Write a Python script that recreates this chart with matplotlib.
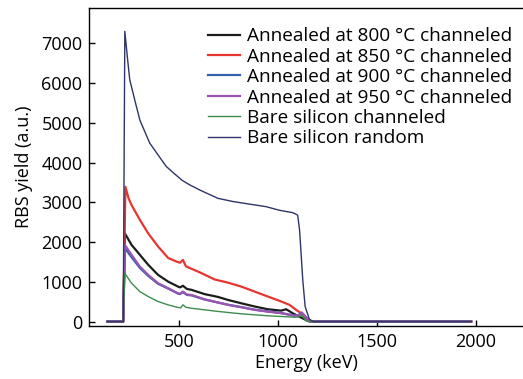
import matplotlib
matplotlib.use("Agg")
import matplotlib.pyplot as plt

# values (energy in keV, yield in a.u.)
labels = [
    "Annealed at 800 °C channeled",
    "Annealed at 850 °C channeled",
    "Annealed at 900 °C channeled",
    "Annealed at 950 °C channeled",
    "Bare silicon channeled",
    "Bare silicon random",
]

black_e = [138, 218, 226, 260, 302, 344, 394, 445, 495, 505, 520, 540, 562, 630, 697, 747, 815, 882, 949, 1017, 1042, 1075, 1100, 1134, 1160, 1978]
black_y = [0, 0, 2220, 1930, 1680, 1430, 1175, 1005, 880, 860, 900, 820, 800, 690, 620, 545, 460, 380, 310, 275, 310, 210, 145, 60, 0, 0]

red_e = [138, 218, 229, 245, 260, 302, 344, 394, 445, 487, 505, 520, 535, 613, 680, 747, 815, 882, 949, 1017, 1059, 1092, 1118, 1143, 1165, 1978]
red_y = [0, 0, 3390, 3100, 2930, 2560, 2220, 1890, 1600, 1510, 1480, 1550, 1390, 1220, 1060, 980, 880, 755, 630, 505, 420, 295, 210, 60, 0, 0]

blue_e = [138, 218, 226, 260, 302, 344, 394, 445, 495, 505, 520, 540, 562, 630, 697, 747, 815, 882, 949, 1017, 1084, 1105, 1121, 1151, 1170, 1978]
blue_y = [0, 0, 1850, 1620, 1350, 1150, 950, 830, 705, 690, 740, 670, 660, 555, 480, 425, 365, 300, 255, 215, 150, 165, 225, 60, 0, 0]

purple_e = [138, 218, 226, 260, 302, 344, 394, 445, 495, 505, 520, 540, 562, 630, 697, 747, 815, 882, 949, 1017, 1084, 1105, 1121, 1151, 1170, 1978]
purple_y = [0, 0, 1930, 1680, 1385, 1175, 965, 840, 710, 700, 755, 680, 670, 560, 480, 420, 360, 295, 250, 210, 145, 160, 225, 60, 0, 0]

green_e = [138, 218, 226, 260, 302, 344, 394, 445, 495, 508, 520, 535, 562, 630, 697, 815, 949, 1084, 1105, 1121, 1140, 1160, 1978]
green_y = [0, 0, 1215, 965, 755, 630, 505, 420, 355, 345, 420, 360, 335, 295, 255, 195, 145, 110, 115, 165, 25, 0, 0]

random_e = [138, 218, 226, 240, 251, 280, 302, 352, 400, 436, 470, 514, 550, 605, 697, 773, 850, 941, 1008, 1075, 1100, 1110, 1126, 1138, 1159, 1180, 1978]
random_y = [0, 0, 7300, 6600, 6080, 5500, 5070, 4490, 4150, 3900, 3750, 3560, 3450, 3310, 3100, 3020, 2960, 2890, 2800, 2740, 2680, 2300, 1050, 380, 60, 0, 0]

x_ticks = [500, 1000, 1500, 2000]
y_ticks = [0, 1000, 2000, 3000, 4000, 5000, 6000, 7000]

plt.rcParams["font.family"] = ["Open Sans", "DejaVu Sans"]
plt.rcParams["font.size"] = 13

fig = plt.figure(figsize=(5.23, 3.79), dpi=100)
ax = fig.add_axes([0.171, 0.140, 0.829, 0.838])

series = [
    (black_e, black_y, "#1c1c1c", 1.6),
    (red_e, red_y, "#e8352e", 1.6),
    (blue_e, blue_y, "#3560ad", 1.6),
    (purple_e, purple_y, "#9b55b0", 1.6),
    (green_e, green_y, "#3d8c4c", 1.0),
    (random_e, random_y, "#2e3569", 1.0),
]
for (e, y, c, lw), lab in zip(series, labels):
    ax.plot(e, y, color=c, lw=lw, label=lab)

ax.set_xlim(47, 2240)
ax.set_ylim(-110, 7880)
ax.set_xticks(x_ticks)
ax.set_yticks(y_ticks)
ax.tick_params(direction="in", length=4, width=1, labelsize=13, pad=5)
ax.spines["right"].set_visible(False)
for s in ["left", "bottom", "top"]:
    ax.spines[s].set_linewidth(1)

ax.set_xlabel("Energy (keV)", fontsize=13, labelpad=2)
ax.set_ylabel("RBS yield (a.u.)", fontsize=13, labelpad=6)

ax.legend(loc="upper left", bbox_to_anchor=(0.273, 0.94), frameon=False,
          fontsize=13.7, handlelength=1.7, handletextpad=0.37,
          labelspacing=0.125, borderpad=0, borderaxespad=0)

plt.savefig("out.png", dpi=100)
